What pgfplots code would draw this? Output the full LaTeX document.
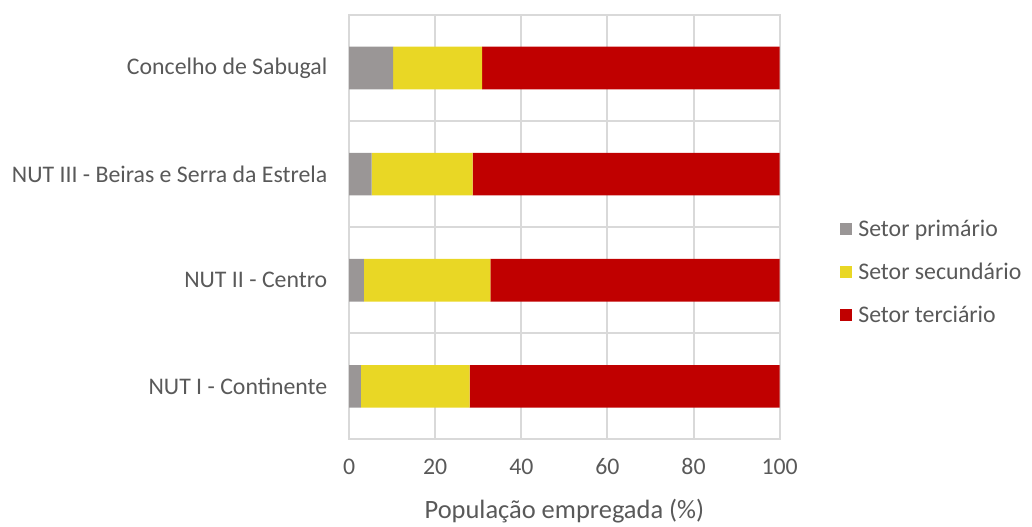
\documentclass[border=0pt]{standalone}
\usepackage{fontspec}
\setmainfont{Carlito}
\usepackage{pgfplots}
\pgfplotsset{compat=1.18}

\definecolor{prim}{HTML}{9A9696}
\definecolor{sec}{HTML}{E9D725}
\definecolor{ter}{HTML}{C00000}
\definecolor{txt}{HTML}{595959}
\definecolor{grd}{HTML}{D9D9D9}

\begin{document}
\begin{tikzpicture}
\begin{axis}[
    scale only axis,
    width=325.5pt, height=321pt,
    xbar stacked,
    bar width=32.25pt,
    xmin=0, xmax=100,
    ymin=-0.5, ymax=3.5,
    xtick={0,20,...,100},
    ytick={0,1,2,3},
    yticklabels={NUT I - Continente, NUT II - Centro, NUT III - Beiras e Serra da Estrela, Concelho de Sabugal},
    minor ytick={-0.5,0.5,1.5,2.5,3.5},
    xmajorgrids, yminorgrids,
    major grid style={grd, line width=1.5pt},
    minor grid style={grd, line width=1.5pt},
    axis line style={grd, line width=1.5pt},
    major tick length=0pt, minor tick length=0pt,
    tick label style={font=\fontsize{18}{21}\selectfont, text=txt},
    /pgf/number format/assume math mode=true,
    yticklabel style={xshift=-13pt},
    xticklabel style={yshift=-11pt},
    xlabel={População empregada (\%)},
    xlabel style={font=\fontsize{20}{23}\selectfont, text=txt, yshift=-11pt},
    legend style={draw=none, at={(1.13,0.394)}, anchor=west,
        font=\fontsize{18}{21}\selectfont, text=txt,
        row sep=14.5pt, legend cell align=left,
        nodes={inner xsep=5pt}},
    legend image code/.code={\fill[#1] (0pt,-4.5pt) rectangle (9pt,4.5pt);},
]
\addplot[fill=prim, draw=none] coordinates {(2.7,0) (3.4,1) (5.2,2) (10.2,3)};
\addlegendentry{Setor primário}
\addplot[fill=sec, draw=none] coordinates {(25.3,0) (29.4,1) (23.5,2) (20.7,3)};
\addlegendentry{Setor secundário}
\addplot[fill=ter, draw=none] coordinates {(72.0,0) (67.2,1) (71.3,2) (69.1,3)};
\addlegendentry{Setor terciário}
\end{axis}
\path[use as bounding box] (-264pt,-61.5pt) rectangle (510pt,332.25pt);
\end{tikzpicture}
\end{document}
